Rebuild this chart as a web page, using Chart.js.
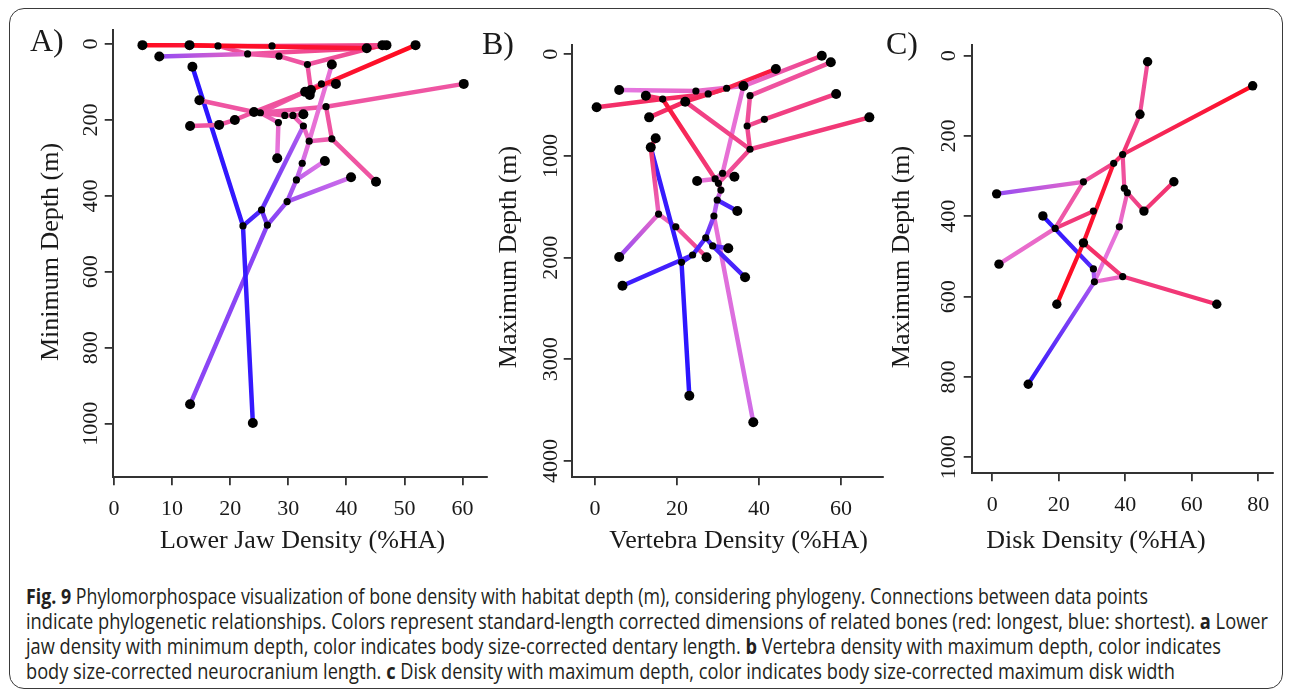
<!DOCTYPE html>
<html><head><meta charset="utf-8">
<script src="https://cdn.jsdelivr.net/npm/chart.js@4.4.1/dist/chart.umd.min.js"></script>
<style>
html,body{margin:0;padding:0;background:#fff;}
#fig{position:relative;width:1290px;height:689px;overflow:hidden;background:#fff;}
#frame{position:absolute;left:9px;top:8px;width:1274px;height:681px;box-sizing:border-box;border:1.5px solid #3a3a3a;border-radius:15px;}
canvas{position:absolute;top:0;}
.serif{position:absolute;font-family:"Liberation Serif","Times New Roman",serif;color:#1a1a1a;white-space:nowrap;line-height:1;}
.plab{font-size:32px;}
.xt{font-size:26px;transform:translateX(-50%);}
.yt{font-size:26px;transform:translate(-50%,-50%) rotate(-90deg);}
.cap{position:absolute;left:26px;font-family:"Open Sans",sans-serif;font-size:22px;line-height:1;color:#231f20;white-space:nowrap;transform-origin:0 0;}
.cap b{font-weight:700;}
</style></head>
<body>
<div id="fig">
  <div id="frame"></div>
  <canvas id="cA" width="495" height="570" style="left:0px"></canvas>
  <canvas id="cB" width="400" height="570" style="left:495px"></canvas>
  <canvas id="cC" width="395" height="570" style="left:895px"></canvas>

  <div class="serif plab" style="left:30px;top:24px">A)</div>
  <div class="serif plab" style="left:482px;top:26.5px">B)</div>
  <div class="serif plab" style="left:886px;top:26.5px">C)</div>

  <div class="serif yt" style="left:50px;top:252px">Minimum Depth (m)</div>
  <div class="serif yt" style="left:508px;top:257px">Maximum Depth (m)</div>
  <div class="serif yt" style="left:901px;top:257px">Maximum Depth (m)</div>

  <div class="serif xt" style="left:302.5px;top:526.5px">Lower Jaw Density (%HA)</div>
  <div class="serif xt" style="left:738.6px;top:526.5px">Vertebra Density (%HA)</div>
  <div class="serif xt" style="left:1096px;top:526.5px">Disk Density (%HA)</div>

  <div class="cap" style="top:583.5px"><b>Fig. 9</b> Phylomorphospace visualization of bone density with habitat depth (m), considering phylogeny. Connections between data points</div>
  <div class="cap" style="top:608.5px">indicate phylogenetic relationships. Colors represent standard-length corrected dimensions of related bones (red: longest, blue: shortest). <b>a</b> Lower</div>
  <div class="cap" style="top:633.5px">jaw density with minimum depth, color indicates body size-corrected dentary length. <b>b</b> Vertebra density with maximum depth, color indicates</div>
  <div class="cap" style="top:658.5px">body size-corrected neurocranium length. <b>c</b> Disk density with maximum depth, color indicates body size-corrected maximum disk width</div>
</div>
<script>
// ---------- Panel A: lower jaw density vs minimum depth ----------
const jawDensity = [4.9, 13.0, 17.9, 27.2, 43.5, 46.2, 46.9, 51.9, 7.8, 23.0, 28.4, 33.3, 37.5, 13.5, 35.7, 38.2, 60.2, 32.9, 33.9, 33.7, 14.7, 36.5, 24.1, 25.2, 29.4, 30.8, 32.6, 13.1, 18.1, 20.8, 28.3, 32.6, 33.6, 37.5, 28.1, 36.3, 32.4, 31.4, 40.8, 45.1, 29.8, 25.4, 22.2, 26.4, 13.1, 23.9];
const jawMinDepth = [3, 3, 5, 5, 11, 3, 3, 3, 33, 26, 32, 54, 54, 60, 105, 105, 105, 126, 121, 134, 148, 165, 179, 181, 188, 188, 185, 216, 213, 200, 207, 216, 256, 250, 301, 308, 314, 358, 351, 363, 415, 437, 479, 477, 949, 998];
const jawTrait = [1.0, 0.95, 0.8, 0.78, 0.9, 0.78, 0.8, 1.0, 0.3, 0.7, 0.72, 0.72, 0.55, 0.0, 0.72, 0.72, 0.72, 0.75, 0.92, 0.7, 0.72, 0.72, 0.72, 0.7, 0.72, 0.7, 0.72, 0.72, 0.72, 0.72, 0.62, 0.6, 0.6, 0.72, 0.5, 0.48, 0.45, 0.38, 0.45, 0.72, 0.32, 0.15, 0.05, 0.25, 0.28, 0.03];
const jawTip = [1,1,0,0,1,1,1,1,1,0,0,0,1,1,0,1,1,1,1,1,1,0,1,0,0,0,1,1,1,1,0,0,0,0,1,1,0,0,1,1,0,0,0,0,1,1];
const jawEdges = [[0,1],[1,4,1.0,0.95],[1,2],[2,3],[3,5],[4,6],[8,9,0.3,0.62],[2,9],[9,10],[9,4,0.72,0.8],[10,11],[11,5],[11,18,0.72,0.72],[18,7,0.95,1.0],[18,17],[18,19],[12,32,0.55,0.55],[22,17],[23,14],[14,15],[23,21],[21,16],[20,22],[27,28],[28,29],[29,22],[22,23],[23,24],[24,25],[25,26],[23,30,0.72,0.6],[30,34,0.6,0.5],[25,31,0.72,0.6],[31,32,0.6,0.62],[21,33],[32,33,0.62,0.72],[33,39],[32,36,0.55,0.45],[36,37],[37,35,0.4,0.5],[37,40],[40,38,0.33,0.45],[40,43],[43,41],[41,42,0.12,0.05],[41,31,0.15,0.38],[13,42,0.0,0.03],[42,45,0.04,0.03],[43,44,0.27,0.28]];
const jawXTicks = [0, 10, 20, 30, 40, 50, 60];
const jawYTicks = [0, 200, 400, 600, 800, 1000];

// ---------- Panel B: vertebra density vs maximum depth ----------
const vertDensity = [55.3, 57.5, 44.1, 5.9, 12.4, 16.5, 24.6, 27.6, 32.1, 36.2, 37.8, 22.0, 0.4, 13.2, 58.8, 66.9, 41.3, 37.1, 37.8, 14.8, 13.6, 31.1, 34.0, 24.9, 29.3, 30.1, 30.7, 29.8, 34.7, 29.0, 15.5, 19.7, 27.0, 28.7, 32.5, 23.8, 5.9, 6.7, 21.1, 27.2, 36.6, 23.0, 38.6];
const vertMaxDepth = [14, 79, 145, 351, 407, 440, 361, 390, 334, 312, 407, 466, 521, 620, 390, 620, 639, 705, 934, 826, 915, 1170, 1204, 1246, 1226, 1269, 1335, 1433, 1541, 1590, 1571, 1696, 1804, 1885, 1908, 1974, 1993, 2276, 2046, 1996, 2193, 3358, 3619];
const vertTrait = [0.82, 0.75, 0.95, 0.5, 0.82, 0.88, 0.6, 0.85, 0.9, 0.55, 0.72, 0.88, 0.85, 0.85, 0.8, 0.85, 0.8, 0.75, 0.78, 0.9, 0.85, 0.55, 0.62, 0.5, 0.72, 0.72, 0.6, 0.3, 0.08, 0.4, 0.62, 0.72, 0.12, 0.1, 0.2, 0.08, 0.3, 0.05, 0.02, 0.78, 0.08, 0.0, 0.45];
const vertTip = [1,1,1,1,1,0,0,0,0,1,0,1,1,1,1,1,0,0,0,1,1,0,1,1,0,0,0,0,1,0,0,0,0,0,1,0,1,1,0,1,1,1,1];
const vertEdges = [[0,9],[1,10],[2,8],[8,11],[3,6],[6,9],[12,5],[4,5],[5,7],[7,8],[5,24,0.95,0.8],[11,13],[11,18,0.8,0.78],[14,16],[16,17],[15,18],[10,17],[9,21],[17,18],[18,25,0.78,0.72],[21,22],[21,24,0.55,0.65],[23,24,0.5,0.6],[24,25],[25,26],[26,27,0.6,0.35],[27,29,0.35,0.4],[27,28,0.1,0.08],[29,32,0.3,0.12],[32,35],[35,37],[32,33],[33,34],[33,40],[29,42,0.55,0.45],[20,19],[20,30],[20,38,0.05,0.02],[38,41],[30,31],[31,39],[30,36,0.6,0.3],[38,35,0.02,0.08]];
const vertXTicks = [0, 20, 40, 60];
const vertYTicks = [0, 1000, 2000, 3000, 4000];

// ---------- Panel C: disk density vs maximum depth ----------
const diskDensity = [46.7, 78.3, 44.4, 39.2, 36.5, 27.4, 54.6, 1.3, 39.7, 40.6, 45.6, 30.4, 15.2, 38.2, 18.9, 27.4, 2.0, 30.4, 30.7, 39.2, 19.4, 67.5, 10.8];
const diskMaxDepth = [15, 75, 146, 246, 268, 314, 314, 344, 330, 341, 387, 387, 399, 426, 430, 466, 519, 531, 563, 550, 619, 619, 818];
const diskTrait = [0.75, 1.0, 0.75, 0.85, 0.88, 0.72, 0.85, 0.35, 0.75, 0.75, 0.82, 0.85, 0.0, 0.55, 0.65, 0.95, 0.55, 0.35, 0.45, 0.75, 1.0, 0.85, 0.02];
const diskTip = [1,1,1,0,0,0,1,1,0,0,1,0,1,0,0,1,1,0,0,0,1,1,1];
const diskEdges = [[0,2],[2,3],[1,3],[3,4],[4,15,0.95,0.97],[15,20,0.97,1.0],[4,5,0.8,0.72],[5,7,0.6,0.3],[5,14,0.72,0.7],[14,16,0.62,0.55],[11,14,0.85,0.8],[12,17,0.0,0.12],[17,18,0.3,0.4],[18,22,0.35,0.02],[18,19,0.55,0.62],[19,21,0.8,0.85],[15,19,0.88,0.8],[3,8,0.75,0.72],[8,9],[9,13,0.7,0.55],[9,10],[10,6],[13,18,0.55,0.5]];
const diskXTicks = [0, 20, 40, 60, 80];
const diskYTicks = [0, 200, 400, 600, 800, 1000];

// ---------- styling helpers ----------
const SERIF = '"Liberation Serif", "Times New Roman", serif';
const CAPTION_LINE_WIDTHS = [1122, 1242, 1195, 1149];
const RAMP = [[0,[42,20,255]],[0.28,[140,70,245]],[0.5,[228,120,228]],[0.7,[238,90,170]],[0.85,[242,50,110]],[1,[255,10,30]]];
function ramp(t){
  t = Math.max(0, Math.min(1, t));
  for (let i = 1; i < RAMP.length; i++) {
    if (t <= RAMP[i][0]) {
      const [t0,c0] = RAMP[i-1], [t1,c1] = RAMP[i];
      const f = (t - t0) / (t1 - t0);
      return 'rgb(' + c0.map((v,k) => Math.round(v + (c1[k]-v)*f)).join(',') + ')';
    }
  }
  return 'rgb(255,10,30)';
}
function edgeColor(c){
  const ch = c.chart, ds = c.dataset;
  if (!ds || !ds.data || ds.data.length < 2) return '#000';
  const a = ds.data[0], b = ds.data[1];
  const xs = ch.scales && ch.scales.x, ys = ch.scales && ch.scales.y;
  if (!ch.chartArea || !xs || !ys) return ramp((a.t + b.t) / 2);
  const g = ch.ctx.createLinearGradient(xs.getPixelForValue(a.x), ys.getPixelForValue(a.y), xs.getPixelForValue(b.x), ys.getPixelForValue(b.y));
  g.addColorStop(0, ramp(a.t));
  g.addColorStop(1, ramp(b.t));
  return g;
}
const yRotPlugin = {
  id: 'yRot',
  afterDraw(chart, args, opts) {
    const s = chart.scales.y, c = chart.ctx;
    c.save();
    c.font = '22px ' + SERIF;
    c.fillStyle = '#1a1a1a';
    c.textAlign = 'center';
    c.textBaseline = 'alphabetic';
    s.ticks.forEach(t => {
      const y = s.getPixelForValue(t.value);
      c.save(); c.translate(opts.x, y); c.rotate(-Math.PI / 2); c.fillText(t.label, 0, 0); c.restore();
    });
    c.restore();
  }
};

function makeChart(id, xv, yv, trait, tip, edges, xTicks, yTicks, lim, lay) {
  const datasets = [{
    data: xv.map((x, i) => ({x: x, y: yv[i]})),
    pointRadius: c => tip[c.dataIndex] ? lay.rTip : lay.rNode,
    backgroundColor: '#000', borderColor: '#000', borderWidth: 0,
    showLine: false, order: 0
  }];
  edges.forEach(e => {
    const i = e[0], j = e[1];
    const ti = e.length > 2 ? e[2] : trait[i];
    const tj = e.length > 2 ? e[3] : trait[j];
    datasets.push({
      data: [{x: xv[i], y: yv[i], t: ti}, {x: xv[j], y: yv[j], t: tj}],
      showLine: true, pointRadius: 0, pointHitRadius: 0,
      borderWidth: lay.lw, borderColor: edgeColor, borderCapStyle: 'round', borderJoinStyle: 'round',
      order: 1
    });
  });
  const axisGrid = {display: true, drawOnChartArea: false, drawTicks: true, tickLength: 8, color: '#333', lineWidth: 1.8};
  const axisBorder = {display: true, color: '#333', width: 2};
  return new Chart(document.getElementById(id), {
    type: 'scatter',
    data: {datasets: datasets},
    plugins: [yRotPlugin],
    options: {
      responsive: false, animation: false, events: [],
      layout: {padding: {left: 0, top: lay.top, right: lay.right, bottom: 0}},
      plugins: {legend: {display: false}, tooltip: {enabled: false}, yRot: {x: lay.ylabX}},
      scales: {
        x: {
          type: 'linear', min: lim[0], max: lim[1],
          afterBuildTicks: s => { s.ticks = xTicks.map(v => ({value: v})); },
          afterFit: s => { s.height = lay.xh; },
          ticks: {callback: v => String(v), font: {family: SERIF, size: 22}, color: '#1a1a1a', padding: 11, maxRotation: 0, autoSkip: false},
          grid: axisGrid, border: axisBorder
        },
        y: {
          type: 'linear', reverse: true, min: lim[2], max: lim[3],
          afterBuildTicks: s => { s.ticks = yTicks.map(v => ({value: v})); },
          afterFit: s => { s.width = lay.yw; },
          ticks: {display: false, callback: v => String(v)},
          grid: axisGrid, border: axisBorder
        }
      }
    }
  });
}

makeChart('cA', jawDensity, jawMinDepth, jawTrait, jawTip, jawEdges, jawXTicks, jawYTicks,
  [-0.22, 64.15, -36.9, 1141.2], {top: 30, right: 8.3, yw: 112.7, xh: 92.7, ylabX: 96.7, rTip: 5, rNode: 3.6, lw: 4.5});
makeChart('cB', vertDensity, vertMaxDepth, vertTrait, vertTip, vertEdges, vertXTicks, vertYTicks,
  [-5.68, 70.3, -91.5, 4160], {top: 45, right: 11.7, yw: 76.7, xh: 92.7, ylabX: 61.7, rTip: 5, rNode: 3.6, lw: 4.5});
makeChart('cC', diskDensity, diskMaxDepth, diskTrait, diskTip, diskEdges, diskXTicks, diskYTicks,
  [-6.2, 84.5, -26.6, 1039.8], {top: 45, right: 16.7, yw: 76.7, xh: 96.7, ylabX: 59.5, rTip: 4.7, rNode: 3.6, lw: 4.2});

function fitCaption(){
  const lines = document.querySelectorAll('.cap');
  lines.forEach((e, i) => {
    e.style.transform = 'none';
    const w = e.getBoundingClientRect().width;
    e.style.transform = 'scaleX(' + (CAPTION_LINE_WIDTHS[i] / w) + ')';
  });
}
fitCaption();
if (document.fonts && document.fonts.ready) document.fonts.ready.then(fitCaption);
</script>
</body></html>
